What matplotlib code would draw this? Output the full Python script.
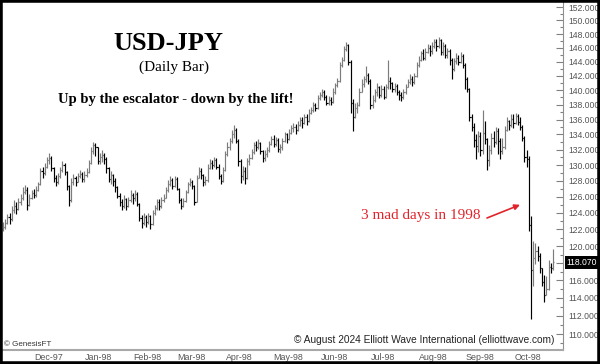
import matplotlib
matplotlib.use("Agg")
import matplotlib.pyplot as plt
import matplotlib.transforms as mtransforms
import numpy as np
import pandas as pd
from matplotlib.patches import Rectangle
from matplotlib.ticker import FixedLocator, FuncFormatter, NullFormatter

# daily bars, USD-JPY (open = previous close)
start_date = "1997-11-06"
end_date = "1998-10-22"
first_open = 122.0

high = [
    122.9, 123.3, 123.9, 124.0, 124.8, 125.6, 125.3, 125.9, 126.4, 127.2,
    127.5, 127.2, 126.3, 126.9, 127.0, 127.3, 127.9, 129.6, 129.8, 130.3,
    131.0, 131.6, 131.2, 129.8, 128.8, 129.0, 129.8, 130.5, 130.3, 129.3,
    127.5, 128.3, 128.9, 128.6, 129.0, 129.4, 129.1, 129.3, 129.6, 130.6,
    132.3, 133.0, 132.9, 132.4, 131.6, 131.9, 131.6, 131.1, 129.8, 129.3,
    128.9, 128.3, 127.3, 126.5, 125.7, 126.2, 125.9, 126.0, 126.8, 126.5,
    126.8, 126.6, 125.2, 123.7, 124.0, 123.8, 124.0, 123.7, 124.3, 125.0,
    125.7, 125.7, 126.0, 126.4, 127.2, 128.1, 128.6, 128.4, 128.6, 128.5,
    127.1, 125.9, 125.8, 126.9, 127.9, 128.3, 128.1, 127.5, 128.8, 129.8,
    129.6, 128.9, 128.6, 130.1, 130.8, 130.7, 131.0, 130.9, 130.1, 128.9,
    129.8, 131.8, 133.0, 133.6, 134.6, 135.2, 134.8, 133.4, 130.8, 129.9,
    129.8, 130.9, 131.4, 132.1, 133.0, 133.2, 133.4, 133.0, 132.0, 131.9,
    132.3, 133.2, 133.8, 133.9, 133.7, 133.6, 132.8, 133.6, 134.3, 134.2,
    134.7, 135.3, 135.5, 135.4, 135.8, 136.4, 136.3, 136.8, 136.7, 137.4,
    137.7, 138.4, 138.3, 139.3, 139.8, 140.1, 140.0, 139.3, 139.2, 139.0,
    140.3, 141.0, 141.7, 143.9, 144.7, 146.2, 146.8, 146.6, 144.2, 138.8,
    138.3, 138.4, 140.3, 141.6, 142.0, 143.4, 142.4, 141.6, 139.4, 140.2,
    141.0, 140.6, 140.7, 140.6, 140.9, 144.3, 141.8, 141.2, 141.0, 140.9,
    140.0, 139.8, 140.1, 140.9, 141.6, 142.2, 142.0, 142.4, 144.0, 144.8,
    145.6, 145.8, 145.9, 146.5, 146.4, 146.8, 147.2, 147.3, 147.6, 147.3,
    146.8, 146.5, 146.0, 145.8, 144.6, 144.5, 145.3, 145.0, 145.4, 145.1,
    143.8, 141.8, 140.3, 136.8, 135.5, 134.0, 134.4, 134.3, 137.3, 135.8,
    133.6, 132.6, 134.2, 134.4, 135.0, 134.9, 133.6, 133.5, 135.1, 136.3,
    136.0, 136.7, 136.8, 136.9, 136.8,
    136.4, 135.2, 133.8, 131.9, 131.2, 123.6, 120.6, 120.4, 120.0, 119.2,
    117.4, 116.6, 116.5, 118.4, 118.0, 119.6,
]

low = [
    121.8, 122.0, 122.6, 122.7, 123.0, 124.0, 123.9, 124.3, 125.0, 125.6,
    126.3, 124.3, 124.8, 125.7, 125.8, 126.0, 126.7, 127.5, 128.4, 128.7,
    129.6, 130.1, 129.2, 127.9, 127.3, 127.6, 128.4, 129.1, 128.7, 126.9,
    124.8, 125.4, 127.5, 127.4, 127.8, 128.3, 127.8, 127.9, 128.5, 129.0,
    130.2, 131.5, 131.2, 130.1, 130.2, 130.4, 130.2, 129.0, 127.8, 127.6,
    127.4, 126.6, 125.8, 124.8, 124.3, 124.6, 124.4, 124.7, 125.3, 125.1,
    125.5, 124.9, 123.0, 122.2, 122.5, 122.3, 122.6, 122.1, 122.5, 123.7,
    124.4, 124.3, 124.6, 125.3, 125.8, 126.6, 127.3, 127.0, 127.2, 126.8,
    125.2, 124.5, 124.7, 125.3, 126.5, 127.3, 127.0, 125.0, 125.3, 128.3,
    128.2, 127.4, 127.5, 127.9, 129.5, 129.5, 129.8, 129.5, 128.2, 127.6,
    127.9, 129.2, 131.2, 132.0, 132.9, 133.6, 132.9, 129.9, 127.7, 128.1,
    127.6, 128.2, 130.0, 130.8, 131.5, 131.8, 132.1, 131.4, 130.4, 130.5,
    131.0, 131.7, 132.6, 132.3, 132.5, 131.7, 131.6, 132.0, 133.0, 132.9,
    133.3, 134.0, 134.3, 134.1, 134.5, 135.1, 134.8, 135.4, 135.3, 135.7,
    136.7, 137.0, 137.1, 137.4, 138.6, 139.0, 138.7, 137.9, 138.0, 137.9,
    138.2, 139.5, 140.4, 141.2, 143.3, 144.1, 145.5, 143.5, 136.9, 134.4,
    136.2, 136.9, 137.8, 139.7, 140.4, 141.2, 140.8, 137.4, 137.6, 138.4,
    139.2, 138.9, 139.1, 138.8, 138.9, 140.2, 140.1, 139.7, 139.8, 139.3,
    138.7, 138.5, 138.8, 139.5, 140.4, 140.8, 140.6, 140.9, 141.8, 143.2,
    144.1, 144.2, 144.3, 145.2, 144.8, 145.1, 145.9, 145.6, 145.9, 144.9,
    145.0, 144.6, 144.5, 143.6, 141.6, 142.7, 143.7, 143.5, 143.8, 143.1,
    140.1, 139.8, 135.8, 134.4, 132.4, 130.8, 131.7, 131.2, 131.5, 132.8,
    129.4, 129.9, 131.5, 132.3, 132.7, 131.4, 130.8, 131.4, 132.1, 134.4,
    134.6, 135.0, 134.9, 135.4, 135.2,
    134.6, 133.2, 130.4, 129.8, 121.8, 111.6, 115.3, 117.9, 118.3, 116.9,
    115.3, 113.6, 114.3, 114.9, 116.9, 117.2,
]

close = [
    122.3, 122.8, 123.5, 123.2, 124.3, 124.8, 124.5, 125.4, 125.8, 126.6,
    126.9, 125.0, 125.9, 126.5, 126.2, 126.9, 127.6, 129.2, 129.0, 129.8,
    130.6, 130.9, 129.6, 128.4, 127.8, 128.6, 129.4, 130.0, 129.1, 127.3,
    125.6, 127.9, 128.3, 127.8, 128.6, 128.9, 128.2, 128.8, 129.1, 130.3,
    131.8, 132.6, 132.3, 130.5, 131.0, 131.3, 130.8, 129.6, 128.2, 128.8,
    128.0, 127.2, 126.1, 125.4, 124.8, 125.7, 124.9, 125.6, 126.2, 125.8,
    126.3, 125.1, 123.4, 122.8, 123.5, 122.9, 123.6, 122.7, 124.0, 124.6,
    125.3, 124.8, 125.6, 125.9, 126.8, 127.6, 128.1, 127.4, 128.2, 127.0,
    125.6, 124.9, 125.5, 126.6, 127.6, 127.9, 127.3, 125.4, 128.4, 129.3,
    128.7, 127.8, 128.1, 129.6, 130.3, 130.0, 130.6, 129.8, 128.6, 128.0,
    129.4, 131.5, 132.3, 133.2, 134.1, 134.6, 133.2, 130.5, 128.6, 129.3,
    128.4, 130.5, 130.9, 131.7, 132.6, 132.3, 132.9, 131.8, 130.9, 131.4,
    131.9, 132.8, 133.4, 132.7, 133.3, 132.1, 132.3, 133.2, 134.0, 133.4,
    134.2, 134.8, 135.0, 134.6, 135.3, 135.9, 135.5, 136.3, 135.8, 136.9,
    137.3, 138.0, 137.6, 138.9, 139.4, 139.8, 139.1, 138.3, 138.7, 138.4,
    139.8, 140.7, 141.3, 143.6, 144.3, 145.8, 146.4, 144.0, 138.2, 136.3,
    137.5, 137.9, 139.8, 140.9, 141.5, 142.1, 141.3, 138.0, 138.6, 139.7,
    140.5, 139.4, 140.2, 139.1, 140.4, 141.3, 141.0, 140.2, 140.6, 139.8,
    139.4, 139.0, 139.7, 140.5, 141.2, 141.6, 141.1, 142.0, 143.6, 144.3,
    145.2, 144.6, 145.4, 146.0, 145.5, 146.3, 146.9, 146.2, 147.1, 145.4,
    146.3, 145.0, 145.6, 144.2, 143.0, 144.1, 144.6, 144.0, 144.8, 143.6,
    141.5, 140.2, 136.4, 135.0, 133.3, 132.5, 133.8, 131.9, 134.2, 133.4,
    130.6, 131.9, 133.6, 133.0, 134.5, 133.2, 131.8, 132.4, 134.6, 135.8,
    135.2, 136.1, 135.5, 136.5, 135.7,
    135.0, 133.6, 131.0, 130.8, 122.5, 117.2, 118.6, 119.4, 118.8, 117.4,
    115.8, 114.3, 115.0, 117.5, 117.4, 118.07,
]

last_label = "118.070"
y_ticks = list(range(110, 153, 2))
y_minor = list(range(109, 153, 2))

dates = pd.bdate_range(start_date, end_date)[:len(close)]
x = np.arange(len(close))
close_a = np.array(close)
open_a = np.r_[first_open, close_a[:-1]]
colors = np.where(close_a >= open_a, "#7c7c7c", "#000000")

fig = plt.figure(figsize=(6, 3.64), dpi=100)
ax = fig.add_axes([2 / 600, 14 / 364, 560.7 / 600, 348 / 364])

ax.vlines(x, low, high, colors=colors, lw=0.85)
ax.hlines(open_a, x - 0.5, x, colors=colors, lw=0.85)
ax.hlines(close_a, x, x + 0.5, colors=colors, lw=0.85)

ax.set_yscale("log")
ax.set_ylim(108.28, 152.76)
ax.set_xlim(-0.45, 254.4)
ax.yaxis.set_major_locator(FixedLocator(y_ticks))
ax.yaxis.set_major_formatter(FuncFormatter(lambda v, p: f"{v:.3f}"))
ax.yaxis.set_minor_locator(FixedLocator(y_minor))
ax.yaxis.set_minor_formatter(NullFormatter())
ax.yaxis.tick_right()
ax.tick_params(axis="y", which="major", direction="in", length=5, width=0.8,
               color="#808080", pad=4, labelsize=6.2, labelcolor="#555555")
ax.tick_params(axis="y", which="minor", direction="in", length=2.5, width=0.8,
               color="#808080")

# month labels
month_first = [i for i in range(1, len(dates)) if dates[i].month != dates[i - 1].month]
ax.set_xticks([i + 3.6 for i in month_first])
ax.set_xticklabels([dates[i].strftime("%b-%y") for i in month_first])
ax.tick_params(axis="x", length=0, pad=2.5, labelsize=6.4, labelcolor="#555555")
for lab in ax.get_xticklabels() + ax.get_yticklabels():
    lab.set_fontfamily("Liberation Sans")

for s in ("left", "top"):
    ax.spines[s].set_visible(False)
ax.spines["right"].set_color("#909090")
ax.spines["right"].set_linewidth(0.8)
ax.spines["bottom"].set_color("#a8a8a8")
ax.spines["bottom"].set_linewidth(1.5)

# last price box
trans = mtransforms.blended_transform_factory(ax.transAxes, ax.transData)
ax.text(1.0065, close[-1], last_label, transform=trans, ha="left", va="center",
        fontsize=6.2, color="white", family="Liberation Sans", clip_on=False,
        bbox=dict(boxstyle="square,pad=0.2", fc="black", ec="none"))

# titles and notes
def ftext(px, py, s, **kw):
    fig.text(px / 600, 1 - py / 364, s, **kw)

ftext(168, 44, "USD-JPY", ha="center", va="center", fontsize=19,
      fontweight="bold", family="Liberation Serif")
ftext(174, 67, "(Daily Bar)", ha="center", va="center", fontsize=11,
      family="Liberation Serif")
ftext(176, 99, "Up by the escalator - down by the lift!", ha="center",
      va="center", fontsize=10.5, fontweight="bold", family="Liberation Serif")
ftext(421, 216, "3 mad days in 1998", ha="center", va="center", fontsize=11,
      color="#e2232a", family="Liberation Serif")
ax.annotate("", xy=(235, 125.0), xycoords="data",
            xytext=(487, 364 - 218), textcoords="figure pixels",
            arrowprops=dict(arrowstyle="-|>", color="#e2232a", lw=1.2,
                            mutation_scale=8, shrinkA=0, shrinkB=0))
ftext(4, 345, "\u00a9 GenesisFT", ha="left", va="center", fontsize=5.8,
      color="#333333", family="Liberation Sans")
ftext(554, 340, "\u00a9 August 2024 Elliott Wave International (elliottwave.com)",
      ha="right", va="center", fontsize=7.3, color="#222222",
      family="Liberation Sans")

fig.patches.append(Rectangle((0, 0), 1, 1, transform=fig.transFigure, fill=False,
                             edgecolor="black", lw=4))

fig.savefig("out.png", dpi=100)
